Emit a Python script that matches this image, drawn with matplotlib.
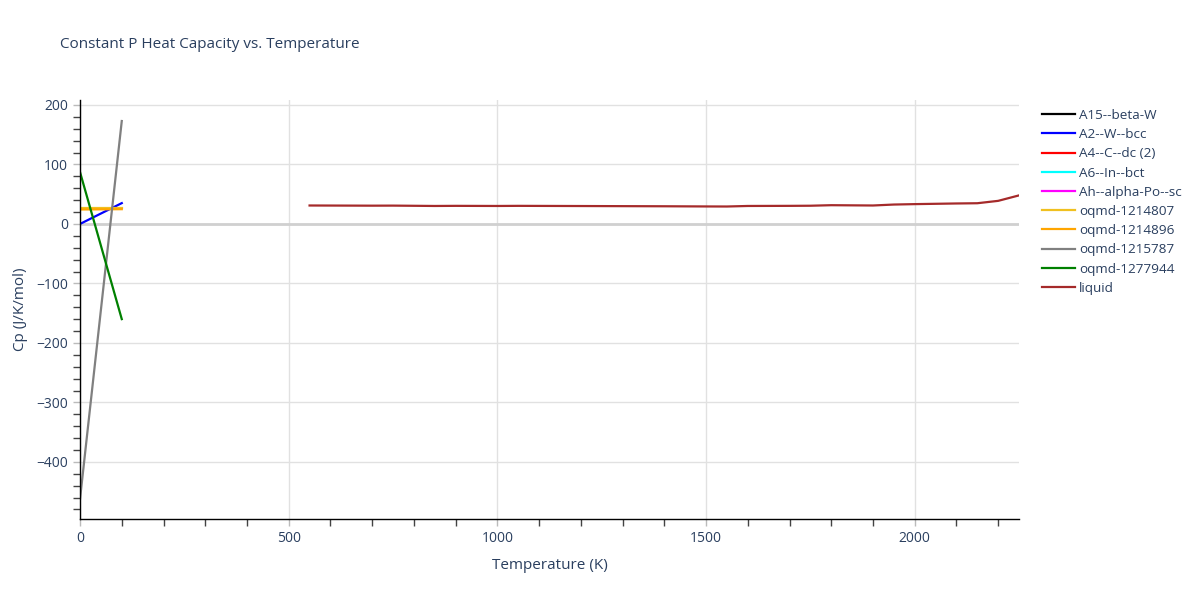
import matplotlib
matplotlib.use('Agg')
import matplotlib.pyplot as plt
from matplotlib.ticker import MultipleLocator

plt.rcParams['font.family'] = ['Open Sans', 'DejaVu Sans']

# phases with no visible data still show up in the legend
empty_names = ['A15--beta-W', 'A4--C--dc (2)', 'A6--In--bct', 'Ah--alpha-Po--sc']
empty_colors = ['black', 'red', 'cyan', 'magenta']

t_low = [0, 100]
bcc_cp = [0.0, 35.0]
oqmd_1214807_cp = [26.5, 26.5]
oqmd_1214896_cp = [24.3, 24.8]
oqmd_1215787_cp = [-462.0, 173.0]
oqmd_1277944_cp = [87.0, -160.0]

t_liquid = [550, 600, 700, 750, 800, 850, 900, 1000, 1050, 1100, 1200, 1300,
            1400, 1500, 1550, 1600, 1700, 1750, 1800, 1900, 1950, 2000, 2100,
            2150, 2200, 2250]
liquid_cp = [31.0, 30.9, 30.7, 30.8, 30.5, 30.2, 30.4, 30.2, 30.4, 30.3, 30.1,
             29.9, 29.7, 29.4, 29.3, 30.2, 30.4, 30.6, 31.5, 31.0, 32.6, 33.3,
             34.4, 34.8, 38.8, 48.0]

text_col = '#2a3f5f'
grid_col = '#e1e1e1'
lw = 1.6

fig = plt.figure(figsize=(12, 6), dpi=100)
ax = fig.add_axes([0.0667, 0.135, 0.7825, 0.698])

lines = []
labels = []
for name, col in zip(empty_names[:1], empty_colors[:1]):
    l, = ax.plot([], [], color=col, lw=lw)
    lines.append(l); labels.append(name)
l, = ax.plot(t_low, bcc_cp, color='blue', lw=lw)
lines.append(l); labels.append('A2--W--bcc')
for name, col in zip(empty_names[1:], empty_colors[1:]):
    l, = ax.plot([], [], color=col, lw=lw)
    lines.append(l); labels.append(name)
l, = ax.plot(t_low, oqmd_1214807_cp, color='#f0c020', lw=lw)
lines.append(l); labels.append('oqmd-1214807')
l, = ax.plot(t_low, oqmd_1214896_cp, color='orange', lw=lw)
lines.append(l); labels.append('oqmd-1214896')
l, = ax.plot(t_low, oqmd_1215787_cp, color='gray', lw=lw)
lines.append(l); labels.append('oqmd-1215787')
l, = ax.plot(t_low, oqmd_1277944_cp, color='green', lw=lw)
lines.append(l); labels.append('oqmd-1277944')
l, = ax.plot(t_liquid, liquid_cp, color='brown', lw=lw)
lines.append(l); labels.append('liquid')

ax.set_xlim(0, 2250)
ax.set_ylim(-496, 208)
ax.xaxis.set_major_locator(MultipleLocator(500))
ax.xaxis.set_minor_locator(MultipleLocator(100))
ax.yaxis.set_major_locator(MultipleLocator(100))
ax.yaxis.set_minor_locator(MultipleLocator(20))
ax.grid(True, which='major', color=grid_col, lw=1)
ax.axhline(0, color='#d0d0d0', lw=2, zorder=1)
ax.set_axisbelow(True)

for side in ['top', 'right']:
    ax.spines[side].set_visible(False)
for side in ['left', 'bottom']:
    ax.spines[side].set_color('black')
    ax.spines[side].set_linewidth(1)

ax.tick_params(which='major', length=5, color='#bbbbbb', labelcolor=text_col,
               labelsize=10, width=1)
ax.tick_params(which='minor', length=5, color='#444444', width=1)
ax.set_yticks([200, 100, 0, -100, -200, -300, -400])
ax.set_yticklabels(['200', '100', '0', '−100', '−200', '−300', '−400'])

ax.set_xlabel('Temperature (K)', color=text_col, fontsize=11, labelpad=9)
ax.set_ylabel('Cp (J/K/mol)', color=text_col, fontsize=11, labelpad=6)
fig.text(0.05, 0.925, 'Constant P Heat Capacity vs. Temperature',
         color=text_col, fontsize=11, va='center')

ax.legend(lines, labels, loc='upper left', bbox_to_anchor=(1.012, 1.008),
          frameon=False, fontsize=9.7, labelcolor=text_col, handlelength=2.4,
          labelspacing=0.46, handletextpad=0.3)

fig.savefig('out.png', dpi=100)
